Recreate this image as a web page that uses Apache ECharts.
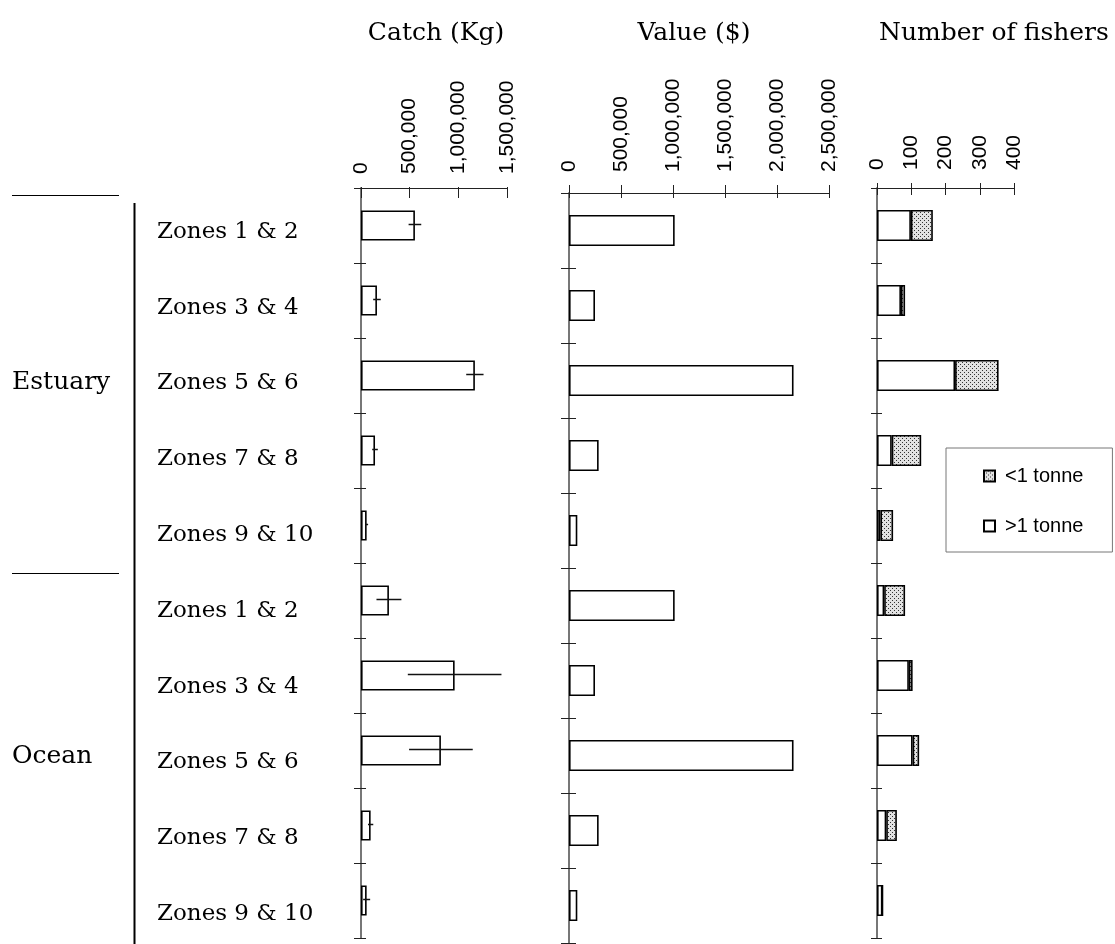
<!DOCTYPE html>
<html>
<head>
<meta charset="utf-8">
<script src="https://cdn.jsdelivr.net/npm/echarts@6/dist/echarts.min.js"></script>
<style>
  html, body { margin: 0; padding: 0; background: #fff; }
  #chart { width: 1115px; height: 944px; }
</style>
</head>
<body>
<div id="chart"></div>
<script>
// Zone groups: estuary zones first, ocean zones after
const categories = [
  'Zones 1 & 2', 'Zones 3 & 4', 'Zones 5 & 6', 'Zones 7 & 8', 'Zones 9 & 10',
  'Zones 1 & 2', 'Zones 3 & 4', 'Zones 5 & 6', 'Zones 7 & 8', 'Zones 9 & 10'
];
const groups = ['Estuary', 'Ocean'];

// Catch (kg) with its error half-width
const catchKg  = [554000, 164000, 1170000, 144000, 58000, 287000, 962000, 821000, 99000, 58000];
const catchErr = [65000, 39000, 89000, 29000, 15000, 128000, 481000, 327000, 27000, 36000];

// Value ($)
const valueDollars = [1016000, 250000, 2159000, 285000, 80000, 1016000, 250000, 2159000, 285000, 80000];

// Number of fishers, split by annual catch
const fishersOver1t  = [99, 70, 228, 43, 10, 21, 93, 104, 27, 16];
const fishersUnder1t = [64, 12, 127, 86, 37, 61, 11, 19, 31, 0];

// Axis ticks
const catchTicks  = [0, 500000, 1000000, 1500000];
const valueTicks  = [0, 500000, 1000000, 1500000, 2000000, 2500000];
const fisherTicks = [0, 100, 200, 300, 400];

const SERIF = '"DejaVu Serif", serif';
const SANS = '"Liberation Sans", Arial, sans-serif';

// stipple fill for the small-catch segment
function stipple() {
  const c = document.createElement('canvas');
  c.width = 4; c.height = 4;
  const g = c.getContext('2d');
  g.fillStyle = '#e2e2e2';
  g.fillRect(0, 0, 4, 4);
  g.fillStyle = '#333';
  g.fillRect(0, 0, 1, 1);
  g.fillRect(2, 2, 1, 1);
  return c;
}
const dotFill = { image: stipple(), repeat: 'repeat' };

const fmt = v => Number(v).toLocaleString('en-US');

const grids = [
  { left: 361, top: 188, width: 146, height: 750 },   // catch
  { left: 569, top: 193, width: 260, height: 750 },   // value
  { left: 877, top: 188, width: 137, height: 750 },   // fishers
  { left: 361, top: 194, width: 1, height: 758, outerBoundsMode: 'none' }  // zone labels
];

function valueAxisPair(gridIndex, ticks, margin, upLen, downLen) {
  const base = {
    type: 'value', gridIndex, position: 'top',
    min: ticks[0], max: ticks[ticks.length - 1], interval: ticks[1] - ticks[0],
    splitLine: { show: false }
  };
  return [
    Object.assign({}, base, {
      axisLine: { show: true, lineStyle: { color: '#222', width: 1 } },
      axisTick: { show: upLen > 0, length: upLen, lineStyle: { color: '#222', width: 1 } },
      axisLabel: {
        rotate: -90, margin, color: '#000',
        fontFamily: SANS, fontSize: 21, formatter: fmt
      }
    }),
    Object.assign({}, base, {
      axisLine: { show: false },
      axisTick: { show: true, inside: true, length: downLen, lineStyle: { color: '#222', width: 1 } },
      axisLabel: { show: false }
    })
  ];
}

function categoryAxisPair(gridIndex, leftLen, rightLen) {
  const base = { type: 'category', gridIndex, data: categories, inverse: true, position: 'left' };
  return [
    Object.assign({}, base, {
      axisLine: { show: true, lineStyle: { color: '#777', width: 2 } },
      axisTick: { show: true, length: leftLen, lineStyle: { color: '#222', width: 1 } },
      axisLabel: { show: false }
    }),
    Object.assign({}, base, {
      axisLine: { show: false },
      axisTick: { show: true, inside: true, length: rightLen, lineStyle: { color: '#222', width: 1 } },
      axisLabel: { show: false }
    })
  ];
}

const xAxis = [].concat(
  valueAxisPair(0, catchTicks, 14, 1, 10),
  valueAxisPair(1, valueTicks, 21, 8, 5),
  valueAxisPair(2, fisherTicks, 18, 5, 7),
  [{ type: 'value', gridIndex: 3, show: false }]
);

const yAxis = [].concat(
  categoryAxisPair(0, 7, 5),
  categoryAxisPair(1, 8, 7),
  categoryAxisPair(2, 6, 5),
  [{
    type: 'category', gridIndex: 3, data: categories, inverse: true, position: 'left',
    axisLine: { show: false }, axisTick: { show: false },
    axisLabel: { margin: 204, align: 'left', color: '#000', fontFamily: SERIF, fontSize: 23 }
  }]
);

const barStyle = { color: '#fff', borderColor: '#000', borderWidth: 1.6 };

const errData = catchKg.map((v, i) => [i, v - catchErr[i], v + catchErr[i]]);

const titleStyle = { fontFamily: SERIF, fontSize: 25, fontWeight: 'normal', color: '#000' };

const option = {
  animation: false,
  backgroundColor: '#fff',
  title: [
    { text: 'Catch (Kg)', left: 436, top: 21, padding: 0, textAlign: 'center', textStyle: titleStyle },
    { text: 'Value ($)', left: 694, top: 21, padding: 0, textAlign: 'center', textStyle: titleStyle },
    { text: 'Number of fishers', left: 994, top: 21, padding: 0, textAlign: 'center', textStyle: titleStyle }
  ],
  legend: {
    data: [{ name: '<1 tonne', icon: 'rect' }, { name: '>1 tonne', icon: 'rect' }],
    orient: 'vertical',
    left: 946, top: 448,
    padding: [18, 29, 16, 37],
    itemGap: 30,
    itemWidth: 11, itemHeight: 11,
    borderColor: '#777', borderWidth: 1,
    selectedMode: false,
    textStyle: { fontFamily: SANS, fontSize: 20, color: '#000', padding: [0, 0, 0, 5] }
  },
  grid: grids,
  xAxis,
  yAxis,
  graphic: [
    { type: 'line', shape: { x1: 12, y1: 195.5, x2: 119, y2: 195.5 }, style: { stroke: '#000', lineWidth: 1 } },
    { type: 'line', shape: { x1: 12, y1: 573.5, x2: 119, y2: 573.5 }, style: { stroke: '#000', lineWidth: 1 } },
    { type: 'line', shape: { x1: 134.5, y1: 203, x2: 134.5, y2: 944 }, style: { stroke: '#000', lineWidth: 2 } },
    { type: 'text', left: 12, top: 370, style: { text: groups[0], font: '25px ' + SERIF, fill: '#000' } },
    { type: 'text', left: 12, top: 744, style: { text: groups[1], font: '25px ' + SERIF, fill: '#000' } }
  ],
  series: [
    {
      name: 'Catch', type: 'bar', xAxisIndex: 0, yAxisIndex: 0,
      data: catchKg, barWidth: 30, itemStyle: barStyle
    },
    {
      name: 'Catch error', type: 'custom', xAxisIndex: 0, yAxisIndex: 0,
      data: errData,
      encode: { x: [1, 2], y: 0 },
      renderItem: function (params, api) {
        const idx = api.value(0);
        const a = api.coord([api.value(1), idx]);
        const b = api.coord([api.value(2), idx]);
        const y = Math.round(a[1]) - 1.5;
        return {
          type: 'line',
          shape: { x1: a[0], y1: y, x2: b[0], y2: y },
          style: { stroke: '#111', lineWidth: 1.5 }
        };
      },
      z: 5
    },
    {
      name: 'Value', type: 'bar', xAxisIndex: 2, yAxisIndex: 2,
      data: valueDollars, barWidth: 31, itemStyle: barStyle
    },
    {
      name: '>1 tonne', type: 'bar', xAxisIndex: 4, yAxisIndex: 4, stack: 'fishers',
      data: fishersOver1t, barWidth: 31, itemStyle: barStyle
    },
    {
      name: '<1 tonne', type: 'bar', xAxisIndex: 4, yAxisIndex: 4, stack: 'fishers',
      data: fishersUnder1t, barWidth: 31,
      itemStyle: { color: dotFill, borderColor: '#000', borderWidth: 1.6 }
    }
  ]
};

const chart = echarts.init(document.getElementById('chart'), null, { renderer: 'canvas' });
chart.setOption(option);
</script>
</body>
</html>
